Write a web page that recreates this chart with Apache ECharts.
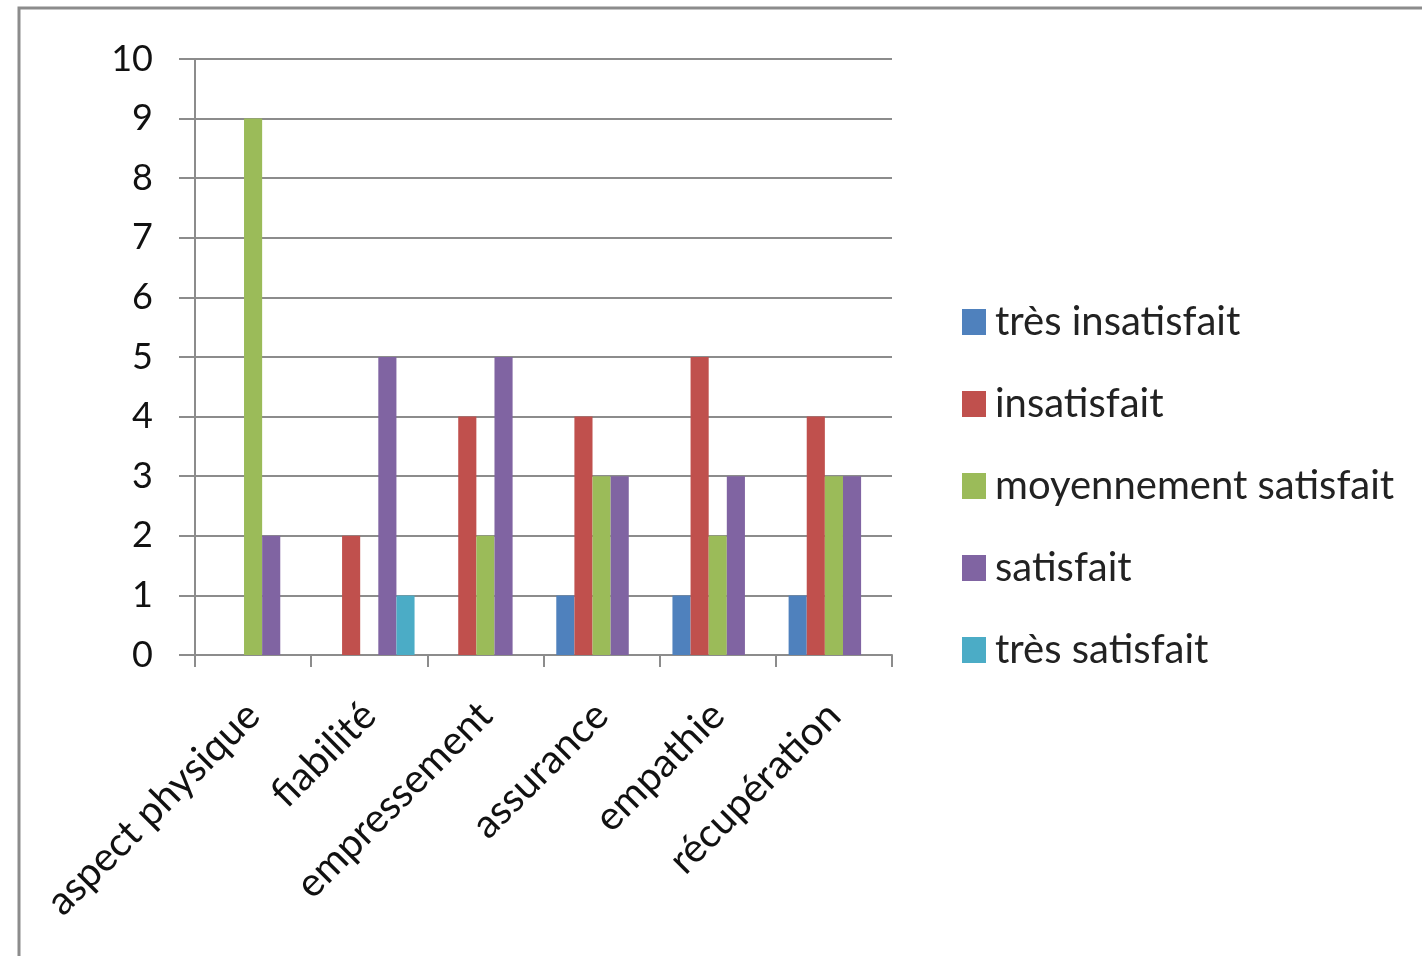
<!DOCTYPE html>
<html>
<head>
<meta charset="utf-8">
<script src="https://cdn.jsdelivr.net/npm/echarts@6/dist/echarts.min.js"></script>
<style>
  html, body { margin: 0; padding: 0; background: #fff; }
  #chart { width: 1422px; height: 956px; }
</style>
</head>
<body>
<div id="chart"></div>
<script>
// categories (x axis)
var categories = ['aspect physique', 'fiabilité', 'empressement', 'assurance', 'empathie', 'récupération'];

// one array per satisfaction level
var tresInsatisfait = [0, 0, 0, 1, 1, 1];
var insatisfait = [0, 2, 4, 4, 5, 4];
var moyennementSatisfait = [9, 0, 2, 3, 2, 3];
var satisfait = [2, 5, 5, 3, 3, 3];
var tresSatisfait = [0, 1, 0, 0, 0, 0];

var seriesNames = ['très insatisfait', 'insatisfait', 'moyennement satisfait', 'satisfait', 'très satisfait'];
var seriesData = [tresInsatisfait, insatisfait, moyennementSatisfait, satisfait, tresSatisfait];
var colors = ['#4F81BD', '#C0504D', '#9BBB59', '#8064A2', '#4BACC6'];

var font = 'Lato, "Open Sans", sans-serif';

var chart = echarts.init(document.getElementById('chart'));

var series = seriesNames.map(function (name, i) {
  return {
    name: name,
    type: 'bar',
    data: seriesData[i],
    barGap: '0%',
    barCategoryGap: '22%',
    itemStyle: { color: colors[i] }
  };
});

chart.setOption({
  animation: false,
  color: colors,
  graphic: [{
    type: 'rect',
    shape: { x: 19, y: 8, width: 1420, height: 960 },
    style: { fill: 'none', stroke: '#8c8c8c', lineWidth: 3 },
    silent: true
  }],
  grid: {
    left: 195,
    top: 59,
    width: 697,
    height: 596,
    containLabel: false
  },
  legend: {
    orient: 'vertical',
    left: 962,
    top: 302,
    padding: 0,
    itemWidth: 24,
    itemHeight: 26,
    itemGap: 42,
    icon: 'rect',
    data: seriesNames,
    textStyle: {
      fontFamily: font,
      fontSize: 40,
      color: '#222',
      lineHeight: 40,
      padding: [0, 0, 0, 4]
    }
  },
  xAxis: {
    type: 'category',
    data: categories,
    axisLine: { lineStyle: { color: '#8c8c8c', width: 2 } },
    axisTick: { show: true, length: 12, lineStyle: { color: '#8c8c8c', width: 2 } },
    axisLabel: {
      rotate: 45,
      interval: 0,
      margin: 54,
      fontFamily: font,
      fontSize: 40,
      color: '#111'
    }
  },
  yAxis: {
    type: 'value',
    min: 0,
    max: 10,
    interval: 1,
    axisLine: { show: true, lineStyle: { color: '#8c8c8c', width: 2 } },
    axisTick: { show: true, length: 16, lineStyle: { color: '#8c8c8c', width: 2 } },
    splitLine: { lineStyle: { color: '#8c8c8c', width: 2 } },
    axisLabel: {
      margin: 42,
      fontFamily: font,
      fontSize: 36,
      color: '#111'
    }
  },
  series: series
});
</script>
</body>
</html>
